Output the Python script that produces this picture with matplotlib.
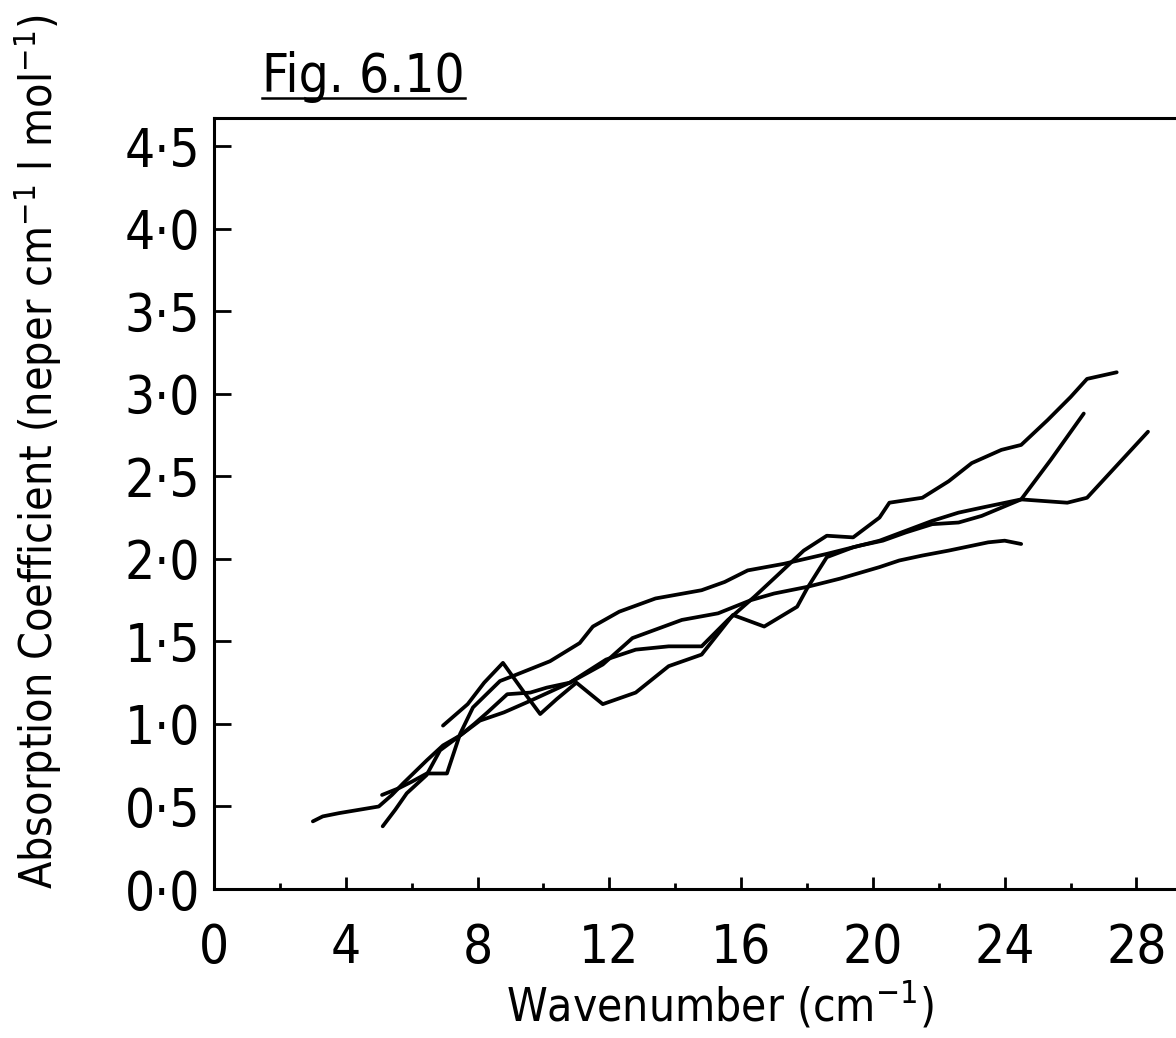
import numpy as np
import matplotlib
matplotlib.use('Agg')
import matplotlib.pyplot as plt
from matplotlib.ticker import MultipleLocator, FuncFormatter
from matplotlib.lines import Line2D

plt.rcParams['font.family'] = ['DejaVu Sans']
plt.rcParams['font.stretch'] = 'condensed'
plt.rcParams['mathtext.default'] = 'regular'

# four traces (wavenumber cm-1, absorption coefficient)
x_a = [3.0, 3.3, 3.8, 4.4, 5.0, 5.4, 5.74, 6.1, 6.46, 6.95, 7.47, 8.07, 8.8, 9.6, 10.8, 11.9, 12.8, 13.8,
       14.8, 15.6, 16.4, 17.1, 17.9, 18.6, 19.4, 19.8, 20.2, 20.5, 21.5, 22.3, 23.0, 23.9, 24.5, 25.3,
       26.0, 26.5, 27.4]
y_a = [0.41, 0.44, 0.46, 0.48, 0.50, 0.57, 0.64, 0.71, 0.78, 0.87, 0.93, 1.02, 1.07, 1.14, 1.25, 1.39, 1.45, 1.47,
       1.47, 1.63, 1.77, 1.90, 2.05, 2.14, 2.13, 2.19, 2.25, 2.34, 2.37, 2.47, 2.58, 2.66, 2.69, 2.84,
       2.98, 3.09, 3.13]

x_b = [5.1, 5.6, 6.0, 6.46, 7.07, 7.47, 7.86, 8.68, 9.07, 10.2, 11.1, 11.5, 12.3, 13.4, 14.8, 15.5, 16.2,
       17.3, 18.6, 19.6, 20.3, 21.0, 21.8, 22.6, 23.3, 24.5, 25.2, 25.9, 26.5, 28.35]
y_b = [0.57, 0.61, 0.65, 0.70, 0.70, 0.94, 1.10, 1.26, 1.29, 1.38, 1.49, 1.59, 1.68, 1.76, 1.81, 1.86, 1.93,
       1.97, 2.03, 2.08, 2.11, 2.16, 2.21, 2.22, 2.26, 2.36, 2.35, 2.34, 2.37, 2.77]

x_c = [5.12, 5.5, 5.85, 6.45, 6.86, 7.47, 7.9, 8.3, 8.9, 9.6, 10.1, 10.8, 11.8, 12.7, 14.2, 15.3, 16.3,
       17.0, 18.0, 19.0, 20.2, 20.8, 21.5, 22.3, 23.5, 24.0, 24.5]
y_c = [0.38, 0.48, 0.58, 0.69, 0.84, 0.93, 1.00, 1.07, 1.18, 1.19, 1.22, 1.25, 1.36, 1.52, 1.63, 1.67, 1.75,
       1.79, 1.83, 1.88, 1.95, 1.99, 2.02, 2.05, 2.10, 2.11, 2.09]

x_d = [6.95, 7.7, 8.2, 8.77, 9.38, 9.9, 10.4, 11.0, 11.8, 12.8, 13.8, 14.8, 15.75, 16.7, 17.7, 18.0, 18.6,
       19.4, 20.2, 21.0, 21.8, 22.6, 23.3, 24.5, 25.4, 26.4]
y_d = [0.99, 1.12, 1.25, 1.37, 1.20, 1.06, 1.15, 1.25, 1.12, 1.19, 1.35, 1.42, 1.66, 1.59, 1.71, 1.82, 2.01,
       2.07, 2.11, 2.17, 2.23, 2.28, 2.31, 2.36, 2.60, 2.88]

x_ticks = [0, 4, 8, 12, 16, 20, 24, 28]
y_ticks = [0.0, 0.5, 1.0, 1.5, 2.0, 2.5, 3.0, 3.5, 4.0, 4.5]

fig = plt.figure(figsize=(11.76, 10.38), dpi=100)
ax = fig.add_axes([0.182, 0.1435, 0.818, 0.7428])

for xs, ys in [(x_a, y_a), (x_b, y_b), (x_c, y_c), (x_d, y_d)]:
    ax.plot(xs, ys, color='black', lw=2.7, solid_joinstyle='round', solid_capstyle='round')

ax.set_xlim(0, 29.2)
ax.set_ylim(0, 4.67)
ax.spines['right'].set_visible(False)
for s in ['left', 'bottom', 'top']:
    ax.spines[s].set_linewidth(2.2)

ax.set_xticks(x_ticks)
ax.xaxis.set_minor_locator(MultipleLocator(2))
ax.set_yticks(y_ticks)
ax.yaxis.set_major_formatter(FuncFormatter(lambda v, p: f'{v:.1f}'.replace('.', '\u00b7')))
ax.tick_params(axis='x', which='major', direction='in', length=9, width=2, pad=24, labelsize=38)
ax.tick_params(axis='x', which='minor', direction='in', length=4, width=2)
ax.tick_params(axis='y', which='major', direction='in', length=12, width=2, pad=10, labelsize=38)
ax.tick_params(top=False, right=False)

fig.text(0.612, 0.031, 'Wavenumber (cm$^{-1}$)', fontsize=33, ha='center', va='center')
fig.text(0.032, 0.565, 'Absorption Coefficient (neper cm$^{-1}$ l mol$^{-1}$)', fontsize=32,
         rotation=90, ha='center', va='center')

# underlined figure caption
cap = fig.text(0.2228, 0.9114, 'Fig. 6.10', fontsize=38, ha='left', va='baseline')
fig.canvas.draw()
bb = cap.get_window_extent().transformed(fig.transFigure.inverted())
fig.add_artist(Line2D([bb.x0, bb.x1], [0.9056, 0.9056], color='black', lw=1.8,
                      transform=fig.transFigure))

plt.savefig('out.png', dpi=100)
